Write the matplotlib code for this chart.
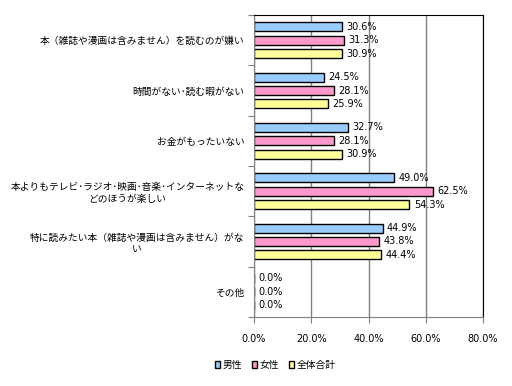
import matplotlib
matplotlib.use("Agg")
import matplotlib.pyplot as plt
import numpy as np

plt.rcParams['font.family'] = ['Noto Sans CJK JP', 'DejaVu Sans']

categories = [
    "本（雑誌や漫画は含みません）を読むのが嫌い",
    "時間がない･読む暇がない",
    "お金がもったいない",
    "本よりもテレビ･ラジオ･映画･音楽･インターネットな\nどのほうが楽しい",
    "特に読みたい本（雑誌や漫画は含みません）がな\nい",
    "その他",
]
series_names = ["男性", "女性", "全体合計"]
male = [30.6, 24.5, 32.7, 49.0, 44.9, 0.0]
female = [31.3, 28.1, 28.1, 62.5, 43.8, 0.0]
total = [30.9, 25.9, 30.9, 54.3, 44.4, 0.0]
colors = ["#99CCFF", "#FF99CC", "#FFFF99"]
xticks = [0, 20, 40, 60, 80]

fig = plt.figure(figsize=(5.12, 3.86), dpi=100)
ax = fig.add_axes([254/512, 1-317/386, (483-254)/512, (317-15)/386])

n = len(categories)
pitch = 0.265
h = 0.18
y = np.arange(n)
for i, (vals, c, name) in enumerate(zip([male, female, total], colors, series_names)):
    pos = y + (i - 1) * pitch
    ax.barh(pos, vals, height=h, color=c, edgecolor="black", linewidth=1.0, label=name)
    for p, v in zip(pos, vals):
        ax.text(v + 1.5, p, f"{v:.1f}%", va="center", ha="left", fontsize=7, family=['DejaVu Sans'])

ax.set_xlim(0, 80)
ax.set_ylim(n - 0.5, -0.5)
ax.set_xticks(xticks)
ax.set_xticklabels([f"{t:.1f}%" for t in xticks], fontsize=7, family=['DejaVu Sans'])
ax.set_yticks(np.arange(n + 1) - 0.5, minor=False)
ax.set_yticklabels([])
ax.set_yticks(y, minor=True)
ax.set_yticklabels(categories, minor=True, fontsize=7, ha="right", multialignment="center")
ax.tick_params(axis="y", which="minor", length=0, pad=7)
ax.tick_params(axis="y", which="major", length=4, color="#808080", direction="out")
ax.tick_params(axis="x", length=4, color="#808080", direction="out", pad=8)
ax.grid(axis="x", color="#808080", linewidth=1)
ax.set_axisbelow(True)
for s in ["left", "bottom"]:
    ax.spines[s].set_color("#808080")
for s in ["top", "right"]:
    ax.spines[s].set_color("black")

handles, labels = ax.get_legend_handles_labels()
fig.legend(handles, labels, loc="center", bbox_to_anchor=(275/512, 1-365/386), ncol=3,
           frameon=False, fontsize=7, handlelength=0.6, handleheight=0.6,
           handletextpad=0.2, columnspacing=1.0)

fig.savefig("out.png", dpi=100)
